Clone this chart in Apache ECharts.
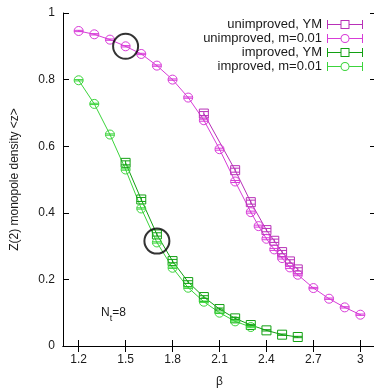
<!DOCTYPE html>
<html>
<head>
<meta charset="utf-8">
<script src="https://cdn.jsdelivr.net/npm/echarts@6/dist/echarts.min.js"></script>
<style>
html,body{margin:0;padding:0;background:#fff;}
#chart{width:374px;height:389px;}
</style>
</head>
<body>
<div id="chart"></div>
<script>
// ---- data ----
var seriesNames = ['unimproved, YM', 'unimproved, m=0.01', 'improved, YM', 'improved, m=0.01'];

var betaUnimpYM = [2.0, 2.2, 2.3, 2.4, 2.45, 2.5, 2.55, 2.6];
var zUnimpYM    = [0.698, 0.528, 0.432, 0.348, 0.316, 0.282, 0.254, 0.230];
var errUnimpYM  = [0.006, 0.006, 0.006, 0.005, 0.005, 0.005, 0.005, 0.005];

var betaUnimpM  = [1.2, 1.3, 1.4, 1.5, 1.6, 1.7, 1.8, 1.9, 2.0, 2.1, 2.2, 2.3, 2.35, 2.4, 2.45, 2.5, 2.55, 2.6, 2.7, 2.8, 2.9, 3.0];
var zUnimpM     = [0.946, 0.936, 0.920, 0.900, 0.877, 0.842, 0.800, 0.746, 0.678, 0.591, 0.494, 0.402, 0.360, 0.322, 0.290, 0.264, 0.236, 0.214, 0.174, 0.142, 0.116, 0.094];
var errUnimpM   = [0.002, 0.002, 0.002, 0.002, 0.002, 0.002, 0.002, 0.002, 0.003, 0.003, 0.003, 0.003, 0.003, 0.003, 0.003, 0.003, 0.003, 0.003, 0.002, 0.002, 0.002, 0.002];

var betaImpYM   = [1.5, 1.6, 1.7, 1.8, 1.9, 2.0, 2.1, 2.2, 2.3, 2.4, 2.5, 2.6];
var zImpYM      = [0.550, 0.440, 0.335, 0.255, 0.192, 0.147, 0.111, 0.083, 0.063, 0.047, 0.034, 0.027];
var errImpYM    = [0.006, 0.006, 0.005, 0.005, 0.004, 0.004, 0.003, 0.003, 0.002, 0.002, 0.002, 0.002];

var betaImpM    = [1.2, 1.3, 1.4, 1.5, 1.6, 1.7, 1.8, 1.9, 2.0, 2.1, 2.2, 2.3];
var zImpM       = [0.798, 0.727, 0.635, 0.530, 0.413, 0.311, 0.235, 0.175, 0.133, 0.100, 0.074, 0.057];
var errImpM     = [0.002, 0.002, 0.002, 0.002, 0.002, 0.002, 0.002, 0.002, 0.002, 0.002, 0.002, 0.002];

var annotBeta = [1.5, 1.7];
var annotZ    = [0.900, 0.315];

var xTicks = [1.2, 1.5, 1.8, 2.1, 2.4, 2.7, 3.0];
var xTickLabels = ['1.2', '1.5', '1.8', '2.1', '2.4', '2.7', '3'];
var yTicks = [0, 0.2, 0.4, 0.6, 0.8, 1];
var yTickLabels = ['0', '0.2', '0.4', '0.6', '0.8', '1'];

var colors = ['#b830b8', '#d83cd8', '#12a012', '#3cd43c'];
var symbols = ['rect', 'circle', 'rect', 'circle'];

// ---- build ----
var sets = [
  [betaUnimpYM, zUnimpYM, errUnimpYM],
  [betaUnimpM, zUnimpM, errUnimpM],
  [betaImpYM, zImpYM, errImpYM],
  [betaImpM, zImpM, errImpM]
];

function pairs(xs, ys) { return xs.map(function (x, i) { return [x, ys[i]]; }); }
function triples(xs, ys, es) { return xs.map(function (x, i) { return [x, ys[i], es[i]]; }); }

var iconSquare = 'path://M0,4h13.5v1h-13.5z M22.5,4h13.5v1h-13.5z M0,0h1v9h-1z M35,0h1v9h-1z M13.5,0h9v9h-9z M14.5,1v7h7v-7z';
var iconCircle = 'path://M0,4h13.5v1h-13.5z M22.5,4h13.5v1h-13.5z M0,0h1v9h-1z M35,0h1v9h-1z M13.5,4.5A4.5,4.5 0 1,0 22.5,4.5A4.5,4.5 0 1,0 13.5,4.5Z M14.5,4.5A3.5,3.5 0 1,1 21.5,4.5A3.5,3.5 0 1,1 14.5,4.5Z';

var series = [];
sets.forEach(function (s, k) {
  series.push({
    name: seriesNames[k],
    type: 'line',
    data: pairs(s[0], s[1]),
    symbol: symbols[k],
    symbolSize: 9,
    showAllSymbol: true,
    lineStyle: { color: colors[k], width: 1 },
    itemStyle: { color: 'rgba(0,0,0,0)', borderColor: colors[k], borderWidth: 1 },
    emphasis: { disabled: true },
    z: 3
  });
});
sets.forEach(function (s, k) {
  series.push({
    type: 'custom',
    data: triples(s[0], s[1], s[2]),
    silent: true,
    z: 4,
    renderItem: function (params, api) {
      var x = api.value(0), y = api.value(1), e = api.value(2);
      var t = api.coord([x, y + e]);
      var b = api.coord([x, y - e]);
      var hw = 4.5;
      var st = { stroke: colors[k], lineWidth: 1, fill: null };
      return {
        type: 'group',
        children: [
          { type: 'line', shape: { x1: t[0], y1: t[1], x2: b[0], y2: b[1] }, style: st },
          { type: 'line', shape: { x1: t[0] - hw, y1: t[1], x2: t[0] + hw, y2: t[1] }, style: st },
          { type: 'line', shape: { x1: b[0] - hw, y1: b[1], x2: b[0] + hw, y2: b[1] }, style: st }
        ]
      };
    }
  });
});
series.push({
  type: 'scatter',
  data: pairs(annotBeta, annotZ),
  symbol: 'circle',
  symbolSize: 25,
  silent: true,
  itemStyle: { color: 'rgba(0,0,0,0)', borderColor: '#000', borderWidth: 2 },
  z: 6
});

var txt = '#1a1a1a';
var font = 'Liberation Sans, Arial, sans-serif';
var axisLine = { show: true, lineStyle: { color: '#000', width: 1 } };

var option = {
  animation: false,
  backgroundColor: '#fff',
  grid: { left: 63, top: 13, width: 313, height: 333, containLabel: false, outerBoundsMode: 'none' },
  legend: {
    orient: 'vertical',
    align: 'right',
    right: 11,
    top: 18,
    padding: 0,
    itemWidth: 36,
    itemHeight: 9,
    itemGap: 1,
    selectedMode: false,
    textStyle: { fontFamily: font, fontSize: 13, color: txt },
    data: seriesNames.map(function (n, k) {
      return { name: n, icon: k % 2 === 0 ? iconSquare : iconCircle, itemStyle: { color: colors[k], borderWidth: 0 } };
    })
  },
  xAxis: [
    {
      type: 'value', min: 1.1, max: 3.1, position: 'bottom',
      axisLine: axisLine,
      axisTick: { show: true, inside: true, length: 6, customValues: xTicks, lineStyle: { color: '#000' } },
      axisLabel: {
        customValues: xTicks, margin: 8, fontSize: 12, color: txt, fontFamily: font,
        formatter: function (v) { var i = xTicks.findIndex(function (t) { return Math.abs(t - v) < 1e-6; }); return i >= 0 ? xTickLabels[i] : ''; }
      },
      splitLine: { show: false },
      name: 'β', nameLocation: 'middle', nameGap: 30,
      nameTextStyle: { fontSize: 12, color: txt, fontFamily: font }
    },
    {
      type: 'value', min: 1.1, max: 3.1, position: 'top',
      axisLine: axisLine,
      axisTick: { show: true, inside: true, length: 6, customValues: xTicks, lineStyle: { color: '#000' } },
      axisLabel: { show: false },
      splitLine: { show: false }
    }
  ],
  yAxis: [
    {
      type: 'value', min: 0, max: 1, interval: 0.2, position: 'left',
      axisLine: axisLine,
      axisTick: { show: true, inside: true, length: 6, lineStyle: { color: '#000' } },
      axisLabel: {
        margin: 8, fontSize: 12, color: txt, fontFamily: font,
        formatter: function (v) { var i = yTicks.findIndex(function (t) { return Math.abs(t - v) < 1e-6; }); return i >= 0 ? yTickLabels[i] : ''; }
      },
      splitLine: { show: false },
      name: 'Z(2) monopole density <z>', nameLocation: 'middle', nameGap: 42,
      nameTextStyle: { fontSize: 12, color: txt, fontFamily: font }
    },
    {
      type: 'value', min: 0, max: 1, interval: 0.2, position: 'right',
      axisLine: axisLine,
      axisTick: { show: true, inside: true, length: 6, lineStyle: { color: '#000' } },
      axisLabel: { show: false },
      splitLine: { show: false }
    }
  ],
  graphic: [
    {
      type: 'text', left: 101, top: 307, silent: true,
      style: {
        text: '{n|N}{t|t}{n|=8}',
        rich: {
          n: { fontSize: 12, fontFamily: font, fill: txt, verticalAlign: 'top', lineHeight: 16 },
          t: { fontSize: 9, fontFamily: font, fill: txt, verticalAlign: 'bottom', lineHeight: 16, padding: [6, 0, 0, 0] }
        }
      }
    }
  ],
  series: series
};

var chart = echarts.init(document.getElementById('chart'), null, { renderer: 'canvas' });
chart.setOption(option);
</script>
</body>
</html>
